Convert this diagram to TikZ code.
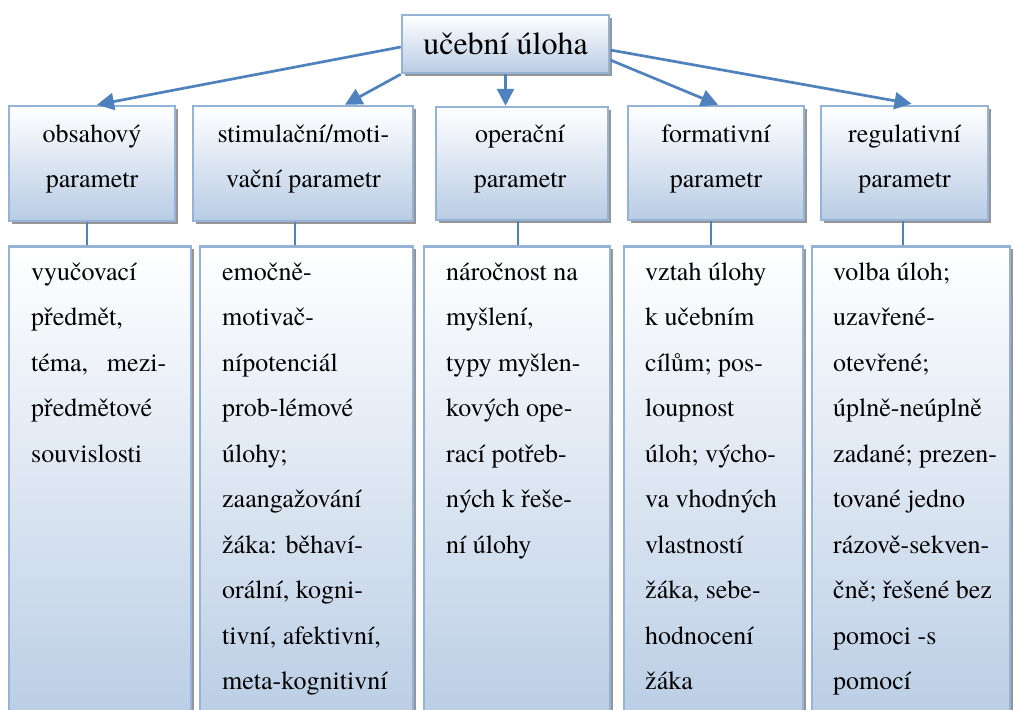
\documentclass[tikz,border=0pt]{standalone}
\usepackage{fontspec}
\setmainfont{texgyretermes-regular.otf}
\usetikzlibrary{arrows.meta,shadows,calc}
\definecolor{bordc}{RGB}{149,179,215}
\definecolor{arrc}{RGB}{79,129,189}
\definecolor{fillb}{RGB}{184,204,228}
\definecolor{shadc}{RGB}{150,150,150}
\newcommand{\ptext}[2]{\parbox[t]{230pt}{\centering\fontsize{26}{45}\selectfont #1\\#2}}
\newcommand{\ctext}[1]{\parbox[t]{200pt}{\raggedright\fontsize{26}{45.5}\selectfont #1}}
\begin{document}
\begin{tikzpicture}[x=1pt,y=-1pt,
  box/.style={draw=bordc, line width=2.5pt, top color=white, bottom color=fillb, inner sep=0pt,
    drop shadow={shadow xshift=3pt,shadow yshift=-3pt,fill=shadc,opacity=1}},
  arr/.style={draw=arrc, line width=2.7pt, -{Triangle[length=17pt,width=17pt]}},
  conn/.style={draw=arrc, line width=2.5pt},
  ptxt/.style={anchor=base, inner sep=0pt},
  ctxt/.style={anchor=base west, inner sep=0pt}]
\useasboundingbox (0,0) rectangle (1014,709);
\clip (0,0) rectangle (1014,709);
% level 3 boxes
\node[box, anchor=north, minimum width=182, minimum height=490] (c1) at (100,245) {};
\node[box, anchor=north, minimum width=213, minimum height=490] (c2) at (306.5,245) {};
\node[box, anchor=north, minimum width=186, minimum height=490] (c3) at (517,245) {};
\node[box, anchor=north, minimum width=179, minimum height=490] (c4) at (713.5,245) {};
\node[box, anchor=north, minimum width=198, minimum height=490] (c5) at (911,245) {};
% level 2 boxes
\node[box, minimum width=166, minimum height=115] (p1) at (92,163.5) {};
\node[box, minimum width=220, minimum height=115] (p2) at (303,163.5) {};
\node[box, minimum width=172, minimum height=113] (p3) at (522,163.5) {};
\node[box, minimum width=176, minimum height=114] (p4) at (716,163) {};
\node[box, minimum width=167, minimum height=114] (p5) at (904.5,163) {};
% top
\node[box, minimum width=207, minimum height=58, font=\fontsize{32}{38}\selectfont] (top) at (505.5,44) {učební úloha};
% level 2 texts
\node[ptxt] (p1t) at (92,142) {\ptext{obsahový}{parametr}};
\node[ptxt] (p2t) at (303.5,142) {\ptext{stimulační/moti-}{vační parametr}};
\node[ptxt] (p3t) at (520,142) {\ptext{operační}{parametr}};
\node[ptxt] (p4t) at (716,142) {\ptext{formativní}{parametr}};
\node[ptxt] (p5t) at (904.5,142) {\ptext{regulativní}{parametr}};
% level 3 texts
\node[ctxt] (c1t) at (31,280) {\ctext{vyučovací\\předmět,\\\makebox[135pt][s]{téma, mezi-}\\předmětové\\souvislosti}};
\node[ctxt] (c2t) at (222,280) {\ctext{emočně-\\motivač-\\nípotenciál\\prob-lémové\\úlohy;\\zaangažování\\žáka: běhaví-\\orální, kogni-\\tivní, afektivní,\\meta-kognitivní}};
\node[ctxt] (c3t) at (446,280) {\ctext{náročnost na\\myšlení,\\typy myšlen-\\kových ope-\\rací potřeb-\\ných k řeše-\\ní úlohy}};
\node[ctxt] (c4t) at (645,280) {\ctext{vztah úlohy\\k učebním\\cílům; pos-\\loupnost\\úloh; výcho-\\va vhodných\\vlastností\\žáka, sebe-\\hodnocení\\žáka}};
\node[ctxt] (c5t) at (833,280) {\ctext{volba úloh;\\uzavřené-\\otevřené;\\úplně-neúplně\\zadané; prezen-\\tované jedno\\rázově-sekven-\\čně; řešené bez\\pomoci -s\\pomocí}};
% connectors level 2 -> level 3
\draw[conn] ([xshift=-5pt]p1.south) -- ([xshift=-5pt]p1.south |- c1.north);
\draw[conn] ([xshift=-8pt]p2.south) -- ([xshift=-8pt]p2.south |- c2.north);
\draw[conn] ([xshift=-4pt]p3.south) -- ([xshift=-4pt]p3.south |- c3.north);
\draw[conn] ([xshift=-5pt]p4.south) -- ([xshift=-5pt]p4.south |- c4.north);
\draw[conn] ([xshift=-1.5pt]p5.south) -- ([xshift=-1.5pt]p5.south |- c5.north);
% arrows from top
\draw[arr] ($(top.west)+(0,3)$) -- ($(p1.north)+(5,0)$);
\draw[arr] (top.south west) -- ($(p2.north)+(42,0)$);
\draw[arr] (top.south) -- (top.south |- p3.north);
\draw[arr] ($(top.east)+(0,16)$) -- ($(p4.north)+(2,0)$);
\draw[arr] ($(top.east)+(0,6)$) -- ($(p5.north)+(7,-1)$);
\end{tikzpicture}
\end{document}
